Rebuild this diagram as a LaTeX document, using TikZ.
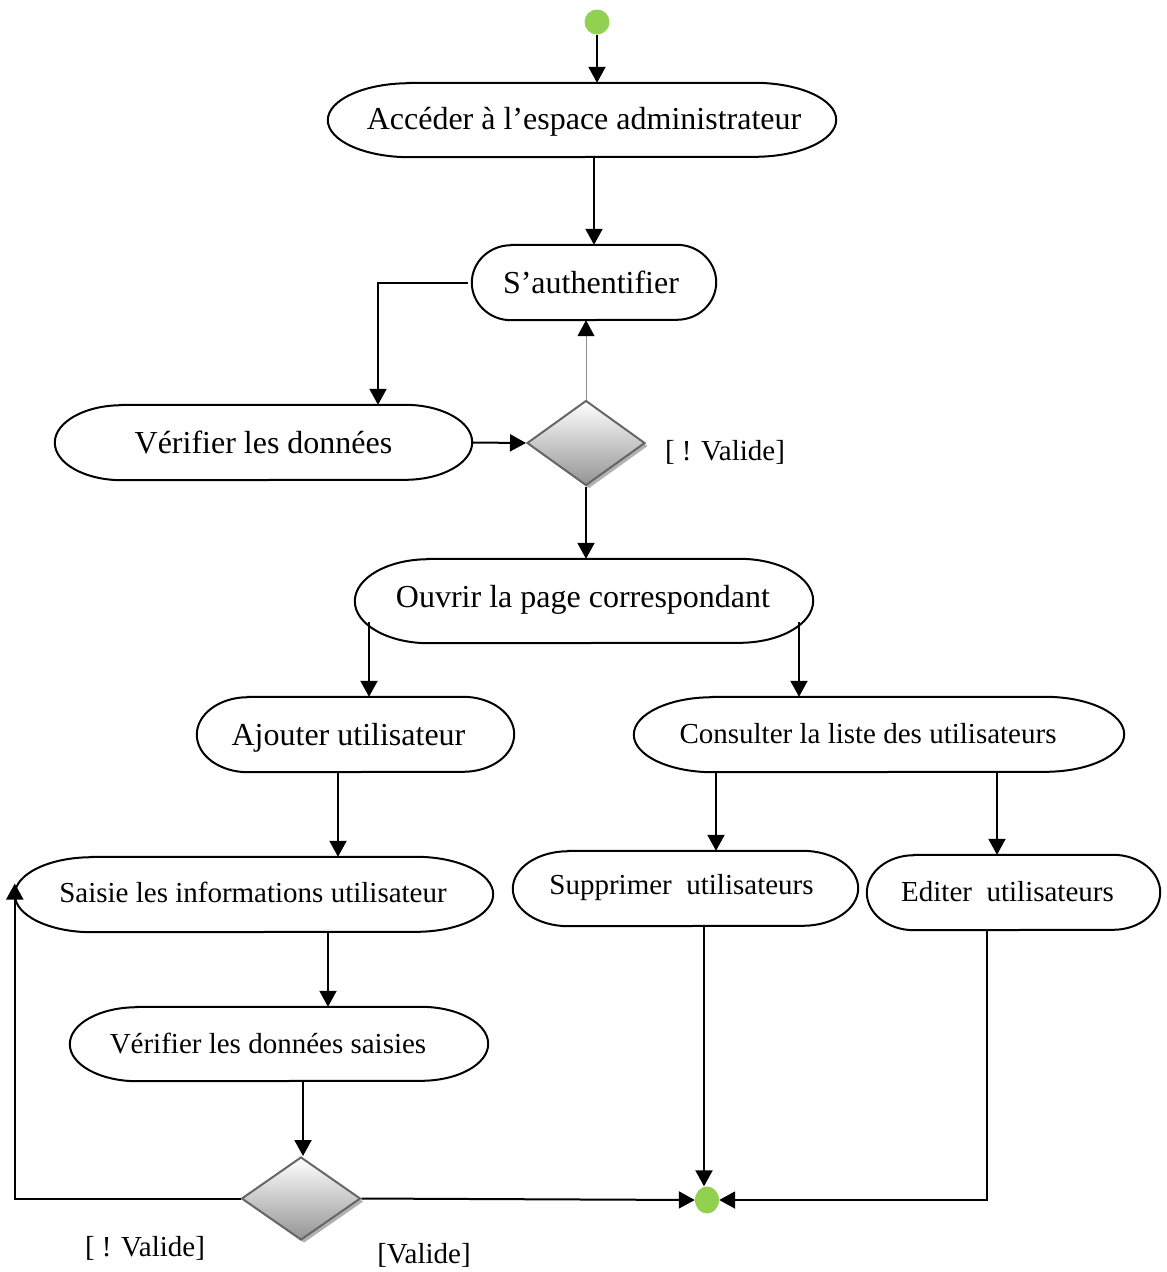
\documentclass[tikz,border=0pt]{standalone}
\usepackage{fontspec}
\setmainfont{Liberation Serif}
\usetikzlibrary{arrows.meta,shapes.geometric,shadows,calc}

\definecolor{startgreen}{HTML}{92D050}
\tikzset{
  boxline/.style={draw=black, line width=2pt},
  bigtext/.style={font=\fontsize{32}{38}\selectfont},
  smalltext/.style={font=\fontsize{29}{34}\selectfont},
  arr/.style={draw=black, line width=2pt, -{Triangle[length=16pt,width=17pt]}},
  thinarr/.style={draw=black!45, line width=1pt, -{Triangle[length=16pt,width=17pt,color=black]}},
  decision/.style={diamond, inner sep=0pt, draw=black!60, line width=2pt,
    top color=white, bottom color=black!42,
    drop shadow={shadow xshift=3pt, shadow yshift=-3pt, fill=black!30, opacity=1}},
  guard/.style={smalltext, inner sep=0pt}
}

% activity box: name, cx, cy, width, height, font style, text offset x, text offset y, text
\newcommand\actbox[9]{%
  \node[inner sep=0pt, minimum width=#4pt, minimum height=#5pt] (#1) at (#2,#3) {};
  \node[inner sep=0pt, #6] (#1-text) at ($(#1.center)+(#7,#8)$) {#9};
  \pgfmathsetmacro\boxrx{0.161*#4}%
  \pgfmathsetmacro\boxry{#5/2}%
  \draw[boxline] ([xshift=\boxrx pt]#1.north west) -- ([xshift=-\boxrx pt]#1.north east)
    arc[start angle=90, end angle=-90, x radius=\boxrx pt, y radius=\boxry pt]
    -- ([xshift=\boxrx pt]#1.south west)
    arc[start angle=270, end angle=90, x radius=\boxrx pt, y radius=\boxry pt] -- cycle;
}

\begin{document}
\begin{tikzpicture}[x=1pt, y=-1pt]
\useasboundingbox (0,0) rectangle (1167,1272);

% initial and final nodes
\node[circle, fill=startgreen, inner sep=0pt, minimum size=25pt] (start) at (597,22) {};
\node[ellipse, fill=startgreen, inner sep=0pt, minimum width=24pt, minimum height=27pt] (end) at (707,1200) {};

% activities
\actbox{acc}{582}{120}{508}{74}{bigtext}{2}{2}{Accéder à l’espace administrateur}
\actbox{auth}{594}{282.5}{244}{75}{bigtext}{-3}{0}{S’authentifier}
\actbox{ver}{263.5}{442.5}{417}{75}{bigtext}{0}{0}{Vérifier les données}
\actbox{ouv}{584}{601}{458}{84}{bigtext}{-1}{-1}{Ouvrir la page correspondant}
\actbox{ajo}{355.5}{734.5}{317}{75}{bigtext}{-7}{3}{Ajouter utilisateur}
\actbox{cons}{879}{734.5}{490}{75}{smalltext}{-11}{-1}{Consulter la liste des utilisateurs}
\actbox{sais}{254}{894.5}{478}{75}{smalltext}{-1}{-2}{Saisie les informations utilisateur}
\actbox{sup}{685.5}{888.5}{345}{75}{smalltext}{-4}{-1}{Supprimer\ \ utilisateurs}
\actbox{edi}{1013.5}{892.5}{293}{75}{smalltext}{-6}{-1}{Editer\ \ utilisateurs}
\actbox{vers}{279}{1044}{418}{74}{smalltext}{-11}{-1}{Vérifier les données saisies}

% decisions
\node[decision, minimum width=118pt, minimum height=85pt] (d1) at (586,443) {};
\node[decision, minimum width=119pt, minimum height=83pt] (d2) at (301,1198.5) {};

% guards
\node[guard] (g1) at (725,452) {[ ! Valide]};
\node[guard] (g2) at (145,1248) {[ ! Valide]};
\node[guard] (g3) at (424,1255) {[Valide]};

% branch points under "Ouvrir la page correspondant"
\coordinate (ouvL) at ($(ouv.center)+(-215,21)$);
\coordinate (ouvR) at ($(ouv.center)+(215,21)$);

% flows
\draw[arr] (start.south) -- (start.south |- acc.north);
\draw[arr] (auth.north |- acc.south) -- (auth.north);
\draw[arr] ([xshift=-4pt]auth.west) -| ([xshift=114.5pt]ver.north);
\draw[arr] (ver.east) -- (d1.west);
\draw[thinarr] (d1.north) -- (d1.north |- auth.south);
\draw[arr] (d1.south) -- (d1.south |- ouv.north);
\draw[arr] (ouvL) -- (ouvL |- ajo.north);
\draw[arr] (ouvR) -- (ouvR |- cons.north);
\draw[arr] ([xshift=-17.5pt]ajo.south) -- ([xshift=-17.5pt]ajo.south |- sais.north);
\draw[arr] ([xshift=-163pt]cons.south) -- ([xshift=-163pt]cons.south |- sup.north);
\draw[arr] ([xshift=118pt]cons.south) -- ([xshift=118pt]cons.south |- edi.north);
\draw[arr] ([xshift=74pt]sais.south) -- ([xshift=74pt]sais.south |- vers.north);
\draw[arr] ([xshift=24pt]vers.south) -- ([xshift=24pt]vers.south |- d2.north);
\draw[arr] (d2.west) -| ([yshift=11pt]sais.west);
\draw[arr] (d2.east) -- (end.west);
\draw[arr] ([xshift=18.5pt]sup.south) -- ([xshift=18.5pt]sup.south |- end.north);
\draw[arr] ([xshift=-26.5pt]edi.south) |- (end.east);
\end{tikzpicture}
\end{document}
